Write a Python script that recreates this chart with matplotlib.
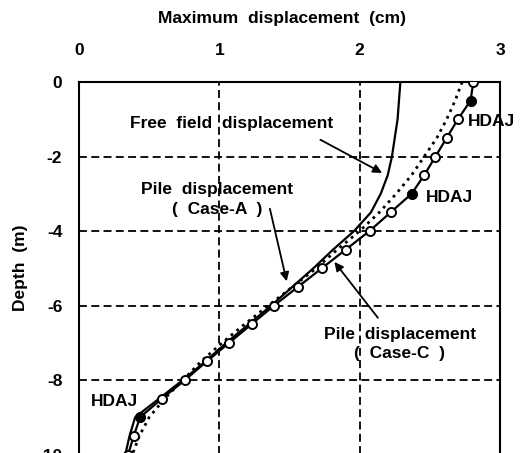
import numpy as np
import matplotlib
matplotlib.use("Agg")
import matplotlib.pyplot as plt

plt.rcParams['font.family'] = ['Liberation Sans', 'DejaVu Sans']
plt.rcParams['axes.unicode_minus'] = False

# Depth of the nodes (m)
depth = [0, -0.5, -1, -1.5, -2, -2.5, -3, -3.5, -4, -4.5, -5, -5.5, -6,
         -6.5, -7, -7.5, -8, -8.5, -9, -9.5, -10]

# Free field displacement (cm)
free_field = [2.29, 2.28, 2.27, 2.25, 2.23, 2.20, 2.15, 2.08, 1.96, 1.81, 1.67,
              1.52, 1.37, 1.21, 1.05, 0.90, 0.74, 0.57, 0.40, 0.36, 0.33]

# Pile displacement, Case-A (cm)
case_a = [2.73, 2.68, 2.62, 2.55, 2.46, 2.37, 2.26, 2.14, 2.00, 1.84, 1.69,
          1.52, 1.35, 1.18, 1.02, 0.87, 0.74, 0.61, 0.50, 0.43, 0.38]

# Pile displacement, Case-C (cm)
case_c = [2.81, 2.79, 2.70, 2.62, 2.54, 2.46, 2.37, 2.22, 2.07, 1.90, 1.73,
          1.56, 1.39, 1.23, 1.07, 0.91, 0.755, 0.59, 0.435, 0.39, 0.35]

# Depths where the HDAJ joints are
hdaj_depth = [-0.5, -3, -9]

xticks = [0, 1, 2, 3]
yticks = [0, -2, -4, -6, -8, -10]

fig = plt.figure(figsize=(5.26, 4.53), dpi=100)
ax = fig.add_axes([0.1502, -0.0199, 0.8004, 0.8389])

# Grid
dash = (0, (4.4, 2.4))
for gx in [1, 2]:
    ax.axvline(gx, color='black', lw=1.3, linestyle=dash, zorder=1)
for gy in [-2, -4, -6, -8]:
    ax.axhline(gy, color='black', lw=1.3, linestyle=dash, zorder=1)

# Curves
ax.plot(free_field, depth, color='black', lw=1.6, zorder=3)
ax.plot(case_a, depth, color='black', lw=2.0, linestyle=':', zorder=3)
ax.plot(case_c, depth, color='black', lw=1.6, marker='o', markersize=6.5,
        markerfacecolor='white', markeredgecolor='black', markeredgewidth=1.4,
        zorder=4)

# HDAJ points filled
hx = [case_c[depth.index(d)] for d in hdaj_depth]
ax.plot(hx, hdaj_depth, linestyle='none', marker='o', markersize=6.5,
        markerfacecolor='black', markeredgecolor='black', zorder=5)

ax.set_xlim(0, 3)
ax.set_ylim(-10.2, 0)

ax.xaxis.tick_top()
ax.set_xticks(xticks)
ax.set_yticks(yticks)
ax.tick_params(axis='x', length=0, pad=17, labelsize=12.5)
ax.tick_params(axis='y', length=0, pad=12, labelsize=12.5)
for lab in ax.get_xticklabels() + ax.get_yticklabels():
    lab.set_fontweight('bold')
for sp in ax.spines.values():
    sp.set_linewidth(1.5)
ax.spines['bottom'].set_visible(False)

fs = 12.5
fig.text(282 / 526, 1 - 18 / 453, "Maximum  displacement  (cm)",
         ha='center', va='center', fontsize=fs, fontweight='bold')
fig.text(21 / 526, 1 - 268 / 453, "Depth  (m)", rotation=90,
         ha='center', va='center', fontsize=fs, fontweight='bold')

# Annotations
arrow = dict(arrowstyle='-|>', color='black', lw=1.3, mutation_scale=13,
             shrinkA=0, shrinkB=0)
ax.text(1.085, -1.12, "Free  field  displacement", ha='center', va='center',
        fontsize=fs, fontweight='bold')
ax.annotate("", xy=(2.16, -2.44), xytext=(1.72, -1.55), arrowprops=arrow)

ax.text(0.985, -3.15, "Pile  displacement\n(  Case-A  )", ha='center',
        va='center', fontsize=fs, fontweight='bold', linespacing=1.4)
ax.annotate("", xy=(1.48, -5.35), xytext=(1.36, -3.4), arrowprops=arrow)

ax.text(2.285, -7.03, "Pile  displacement\n(  Case-C  )", ha='center',
        va='center', fontsize=fs, fontweight='bold', linespacing=1.4)
ax.annotate("", xy=(1.82, -4.83), xytext=(2.13, -6.33), arrowprops=arrow)

ax.text(2.77, -1.05, "HDAJ", ha='left', va='center', fontsize=fs,
        fontweight='bold')
ax.text(2.47, -3.09, "HDAJ", ha='left', va='center', fontsize=fs,
        fontweight='bold')
ax.text(0.085, -8.58, "HDAJ", ha='left', va='center', fontsize=fs,
        fontweight='bold')

fig.savefig("out.png", dpi=100)
